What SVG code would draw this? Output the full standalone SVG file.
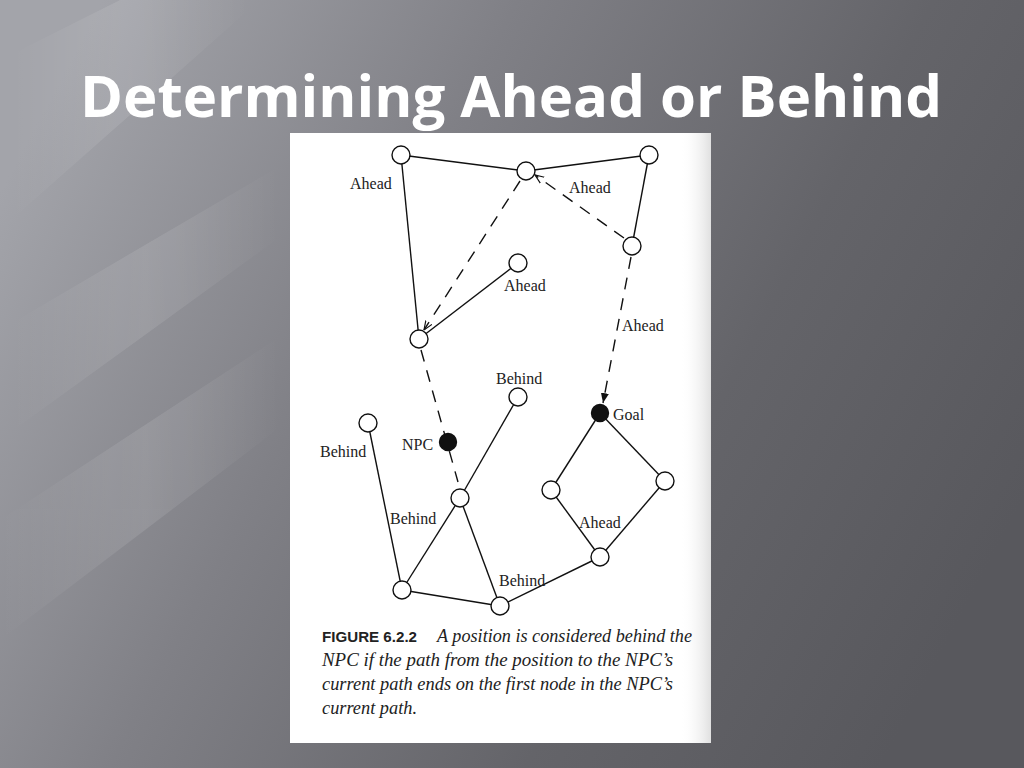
<svg xmlns="http://www.w3.org/2000/svg" width="1024" height="768" viewBox="0 0 1024 768">
<defs>
<linearGradient id="bg" x1="0" y1="0.25" x2="1" y2="0.65">
<stop offset="0" stop-color="#a3a4aa"/>
<stop offset="0.35" stop-color="#808086"/>
<stop offset="0.7" stop-color="#646469"/>
<stop offset="1" stop-color="#58585d"/>
</linearGradient>
<linearGradient id="streak" x1="0" y1="0" x2="1" y2="0">
<stop offset="0" stop-color="#ffffff" stop-opacity="0"/>
<stop offset="0.5" stop-color="#ffffff" stop-opacity="0.12"/>
<stop offset="1" stop-color="#ffffff" stop-opacity="0"/>
</linearGradient>
<linearGradient id="pageEdge" x1="0" y1="0" x2="1" y2="0">
<stop offset="0" stop-color="#ffffff" stop-opacity="0"/>
<stop offset="1" stop-color="#d8d8d8" stop-opacity="0.8"/>
</linearGradient>
<marker id="arrFill" viewBox="0 0 10 10" refX="10" refY="5" markerWidth="10" markerHeight="10" markerUnits="userSpaceOnUse" orient="auto">
<path d="M0,1 L10,5 L0,9 Z" fill="#111"/>
</marker>
<marker id="arrOpen" viewBox="0 0 10 10" refX="10" refY="5" markerWidth="9" markerHeight="9" markerUnits="userSpaceOnUse" orient="auto">
<path d="M0,1 L10,5 L0,9" fill="none" stroke="#111" stroke-width="1.3"/>
</marker>
</defs>
<style>
.edge{stroke:#111;stroke-width:1.4;fill:none}
.dash{stroke:#111;stroke-width:1.4;fill:none;stroke-dasharray:12 9}
.node{fill:#fff;stroke:#111;stroke-width:1.4}
.fill{fill:#111;stroke:#111;stroke-width:1.4}
.lbl{font-family:"Liberation Serif","Times New Roman",serif;font-size:16px;fill:#222}
.cap{font-family:"Liberation Serif","Times New Roman",serif;font-style:italic;font-size:18px;fill:#222}
.capb{font-family:"Liberation Sans",Arial,sans-serif;font-weight:bold;font-size:14px;fill:#222}
.title{font-family:"Open Sans","Noto Sans",sans-serif;font-weight:bold;font-size:57px;fill:#ffffff}
</style>
<rect width="1024" height="768" fill="url(#bg)"/>
<g opacity="0.9">
<polygon points="0,60 120,0 260,0 0,230" fill="url(#streak)"/>
<polygon points="0,330 290,160 290,230 0,440" fill="url(#streak)"/>
<polygon points="0,520 290,330 290,420 0,640" fill="url(#streak)"/>
</g>
<text class="title" x="511" y="117" text-anchor="middle" textLength="862" lengthAdjust="spacingAndGlyphs">Determining Ahead or Behind</text>
<g id="page">
<rect x="290" y="133" width="421" height="610" fill="#ffffff"/>
<rect x="680" y="133" width="31" height="610" fill="url(#pageEdge)"/>
</g>
<g id="connectors">
<line class="edge" x1="401" y1="155" x2="526" y2="171"/>
<line class="edge" x1="526" y1="171" x2="649" y2="155"/>
<line class="edge" x1="649" y1="155" x2="632" y2="246"/>
<line class="edge" x1="401" y1="155" x2="419" y2="339"/>
<line class="edge" x1="419" y1="339" x2="518" y2="263"/>
<line class="dash" x1="520" y1="181" x2="424" y2="330" marker-end="url(#arrOpen)"/>
<line class="dash" x1="624" y1="238" x2="535" y2="175" marker-end="url(#arrOpen)"/>
<line class="dash" x1="631" y1="257" x2="603" y2="403" marker-end="url(#arrFill)"/>
<line class="dash" x1="421" y1="350" x2="458" y2="482"/>
<line class="edge" x1="368" y1="423" x2="402" y2="590"/>
<line class="edge" x1="402" y1="590" x2="460" y2="498"/>
<line class="edge" x1="460" y1="498" x2="518" y2="397"/>
<line class="edge" x1="460" y1="498" x2="500" y2="606"/>
<line class="edge" x1="402" y1="590" x2="500" y2="606"/>
<line class="edge" x1="500" y1="606" x2="600" y2="557"/>
<line class="edge" x1="600" y1="557" x2="551" y2="490"/>
<line class="edge" x1="551" y1="490" x2="600" y2="413"/>
<line class="edge" x1="600" y1="413" x2="665" y2="481"/>
<line class="edge" x1="665" y1="481" x2="600" y2="557"/>
</g>
<g id="nA"><circle class="node" cx="401" cy="155" r="9"/></g>
<g id="nB"><circle class="node" cx="526" cy="171" r="9"/></g>
<g id="nC"><circle class="node" cx="649" cy="155" r="9"/></g>
<g id="nD"><circle class="node" cx="632" cy="246" r="9"/></g>
<g id="nE"><circle class="node" cx="518" cy="263" r="9"/></g>
<g id="nF"><circle class="node" cx="419" cy="339" r="9"/></g>
<g id="nNPC"><circle class="fill" cx="448" cy="442" r="8.5"/></g>
<g id="nGoal"><circle class="fill" cx="600" cy="413" r="8.5"/></g>
<g id="nG"><circle class="node" cx="518" cy="397" r="9"/></g>
<g id="nH"><circle class="node" cx="368" cy="423" r="9"/></g>
<g id="nI"><circle class="node" cx="460" cy="498" r="9"/></g>
<g id="nJ"><circle class="node" cx="551" cy="490" r="9"/></g>
<g id="nK"><circle class="node" cx="665" cy="481" r="9"/></g>
<g id="nL"><circle class="node" cx="600" cy="557" r="9"/></g>
<g id="nM"><circle class="node" cx="402" cy="590" r="9"/></g>
<g id="nN"><circle class="node" cx="500" cy="606" r="9"/></g>
<g id="labels">
<text class="lbl" x="350" y="189">Ahead</text>
<text class="lbl" x="569" y="193">Ahead</text>
<text class="lbl" x="504" y="291">Ahead</text>
<text class="lbl" x="622" y="331">Ahead</text>
<text class="lbl" x="496" y="384">Behind</text>
<text class="lbl" x="613" y="420">Goal</text>
<text class="lbl" x="402" y="450">NPC</text>
<text class="lbl" x="320" y="457">Behind</text>
<text class="lbl" x="390" y="524">Behind</text>
<text class="lbl" x="579" y="528">Ahead</text>
<text class="lbl" x="499" y="586">Behind</text>
</g>
<g id="caption">
<text class="capb" x="322" y="642" textLength="95" lengthAdjust="spacingAndGlyphs">FIGURE 6.2.2</text>
<text class="cap" x="437" y="642" textLength="255" lengthAdjust="spacingAndGlyphs">A position is considered behind the</text>
<text class="cap" x="322" y="666" textLength="351" lengthAdjust="spacingAndGlyphs">NPC if the path from the position to the NPC’s</text>
<text class="cap" x="322" y="690" textLength="351" lengthAdjust="spacingAndGlyphs">current path ends on the first node in the NPC’s</text>
<text class="cap" x="322" y="714" textLength="95" lengthAdjust="spacingAndGlyphs">current path.</text>
</g>
</svg>
